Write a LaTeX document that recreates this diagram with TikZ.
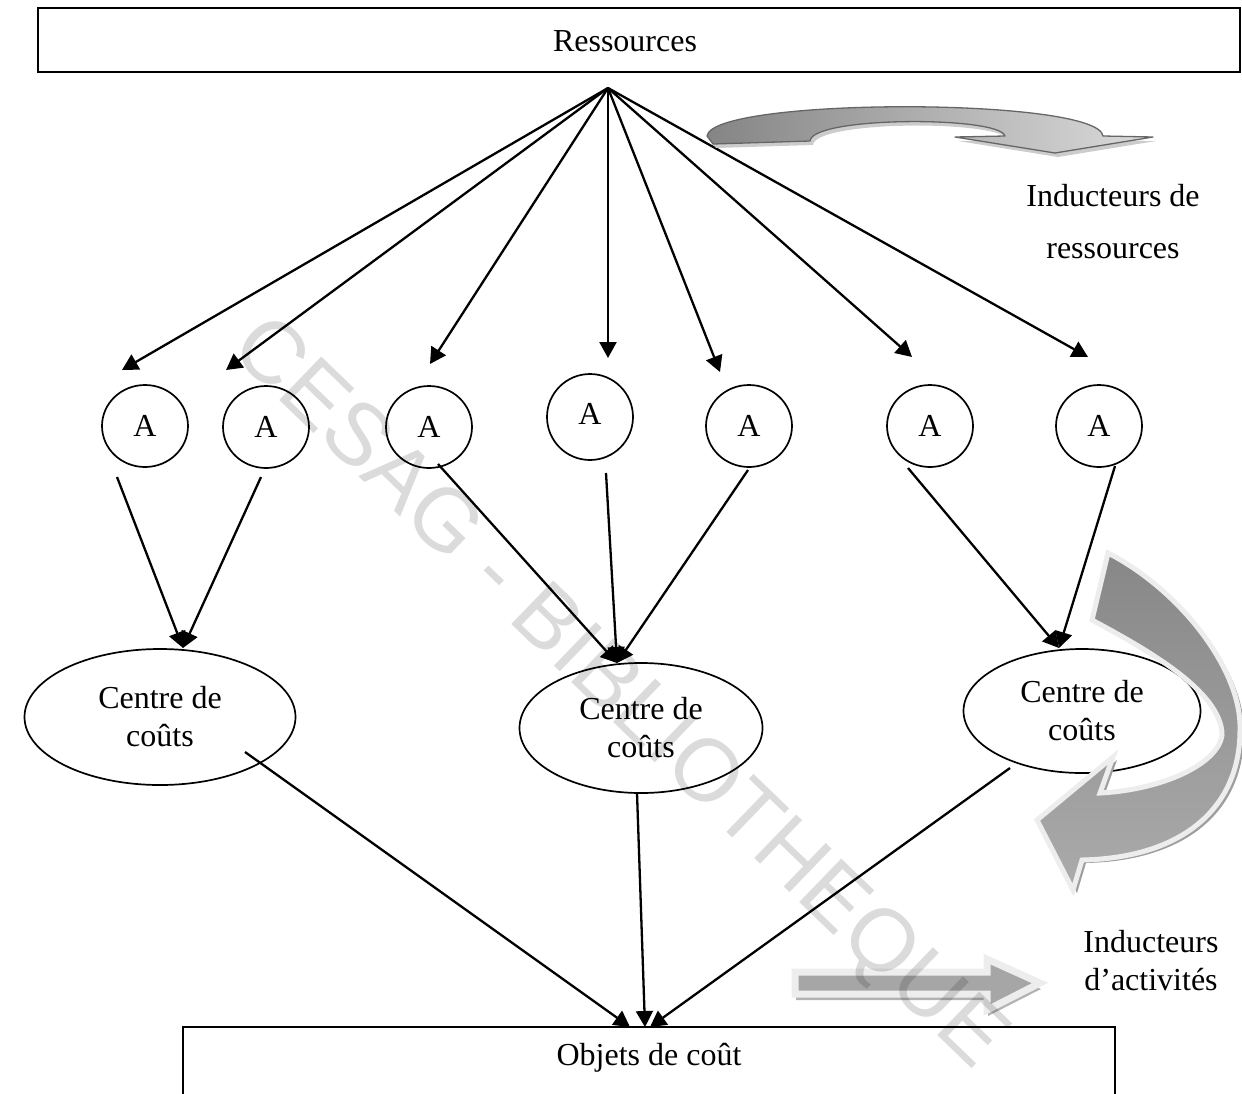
\documentclass[tikz,border=0pt]{standalone}
\usepackage{fontspec}
\setmainfont{Liberation Serif}
\newfontfamily\wmfont{Liberation Sans}
\usetikzlibrary{arrows.meta,shapes.geometric}
\begin{document}
\begin{tikzpicture}[x=1pt,y=-1pt,
  txt/.style={font=\fontsize{32}{38}\selectfont, align=center, inner sep=0pt},
  act/.style={draw, line width=1.7pt, ellipse, minimum width=86pt, minimum height=82pt, inner sep=0pt, font=\fontsize{32}{38}\selectfont},
  ctr/.style={draw, line width=1.7pt, ellipse, inner sep=0pt, align=center, font=\fontsize{32}{38}\selectfont},
  conn/.style={line width=2.3pt},
  arr/.style={conn, -{Triangle[length=16pt,width=17pt]}},
  boxs/.style={draw, line width=1.7pt, inner sep=0pt},
  bigarrow/.style={draw=black!7, line width=5pt, line join=miter},
  bigshadow/.style={fill=black!38}
]
\useasboundingbox (0,0) rectangle (1242,1093);

% boxes
\node[boxs, minimum width=1202pt, minimum height=64pt] (res) at (639,40) {};
\node[txt] (restxt) at (625,41) {Ressources};
\draw[line width=1.7pt] (183,1100) -- (183,1027) -- (1115,1027) -- (1115,1100);
\node[txt] (objtxt) at (649,1058) {Objets de coût};
\coordinate (o1) at (630,1027);
\coordinate (o2) at (645,1027);
\coordinate (o3) at (650,1027);

% activity nodes
\node[act] (a1) at (145,426) {A};
\node[act] (a2) at (266,427) {A};
\node[act] (a3) at (429,427) {A};
\node[act, minimum height=86pt] (a4) at (590,417) {\raisebox{6pt}{A}};
\node[act] (a5) at (749,426) {A};
\node[act] (a6) at (930,426) {A};
\node[act] (a7) at (1099,426) {A};

% cost centres
\node[ctr, minimum width=271pt, minimum height=136pt] (e1) at (160,717) {Centre de\\coûts};
\node[ctr, minimum width=243pt, minimum height=130pt] (e2) at (641,728) {Centre de\\coûts};
\node[ctr, minimum width=237pt, minimum height=124pt] (e3) at (1082,711) {Centre de\\coûts};

% labels
\node[txt, align=center] (ir1) at (1113,196) {Inducteurs de};
\node[txt, align=center] (ir2) at (1113,251) {ressources};
\node[txt, align=center] (ia) at (1151,961) {Inducteurs\\d’activités};

% hub and arrow tips
\coordinate (hub) at (608,88);
\coordinate (t1) at (122,370);
\coordinate (t2) at (226,370);
\coordinate (t3) at (430,364);
\coordinate (t4) at (608,358);
\coordinate (t5) at (720,372);
\coordinate (t6) at (912,357);
\coordinate (t7) at (1088,357);
\foreach \t in {t1,t2,t3,t4,t5,t6,t7} \draw[arr] (hub) -- (\t);

% activities to centres
\coordinate (s1) at (117,477);
\coordinate (s2) at (261,477);
\coordinate (s3) at (438,464);
\coordinate (s4) at (606,473);
\coordinate (s5) at (748,470);
\coordinate (s6) at (908,468);
\coordinate (s7) at (1115,466);
\coordinate (c1) at (183,648);
\coordinate (c2) at (617,663);
\coordinate (c3) at (1059,648);
\draw[arr] (s1) -- (c1);
\draw[arr] (s2) -- (c1);
\draw[arr] (s3) -- (c2);
\draw[arr] (s4) -- (c2);
\draw[arr] (s5) -- (c2);
\draw[arr] (s6) -- (c3);
\draw[arr] (s7) -- (c3);

% centres to cost objects
\coordinate (b1) at (245,752);
\coordinate (b2) at (637,793);
\coordinate (b3) at (1010,768);
\draw[arr] (b1) -- (o1);
\draw[arr] (b2) -- (o2);
\draw[arr] (b3) -- (o3);

% top curved arrow
\fill[black!20, shift={(3,4)}] (713,144) -- (810,141) .. controls (812,116) and (1000,116) .. (1005,136) -- (955,137) -- (1055,153) -- (1153,137) -- (1103,136) .. controls (1098,97) and (712,97) .. (707,136) -- cycle;
\draw[draw=black!60, line width=1.3pt, left color=black!48, right color=black!14, line join=round]
  (713,144) -- (810,141) .. controls (812,116) and (1000,116) .. (1005,136) -- (955,137) -- (1055,153) -- (1153,137) -- (1103,136) .. controls (1098,97) and (712,97) .. (707,136) -- cycle;

% right curved arrow
\fill[bigshadow, shift={(4,3)}] (1108,553) .. controls (1180,590) and (1242,670) .. (1240,730) .. controls (1240,810) and (1180,858) .. (1082,860) -- (1073,890) -- (1037,820) -- (1113,757) -- (1100,793) .. controls (1160,790) and (1218,765) .. (1222,735) .. controls (1222,690) and (1140,646) .. (1092,620) -- cycle;
\draw[bigarrow, top color=black!47, bottom color=black!33]
  (1108,553) .. controls (1180,590) and (1242,670) .. (1240,730) .. controls (1240,810) and (1180,858) .. (1082,860) -- (1073,890) -- (1037,820) -- (1113,757) -- (1100,793) .. controls (1160,790) and (1218,765) .. (1222,735) .. controls (1222,690) and (1140,646) .. (1092,620) -- cycle;

% bottom straight arrow
\fill[black!30, shift={(1,6)}] (795,972) -- (987,972) -- (987,959) -- (1040,983) -- (987,1010) -- (987,994) -- (795,994) -- cycle;
\draw[bigarrow, line width=7pt, fill=black!35]
  (795,972) -- (987,972) -- (987,959) -- (1040,983) -- (987,1010) -- (987,994) -- (795,994) -- cycle;

% watermark
\node[font=\wmfont\fontsize{88}{88}\selectfont, text=black, text opacity=0.14, rotate=-44, inner sep=0pt] (wm) at (617,695) {CESAG - BIBLIOTHEQUE};
\end{tikzpicture}
\end{document}
